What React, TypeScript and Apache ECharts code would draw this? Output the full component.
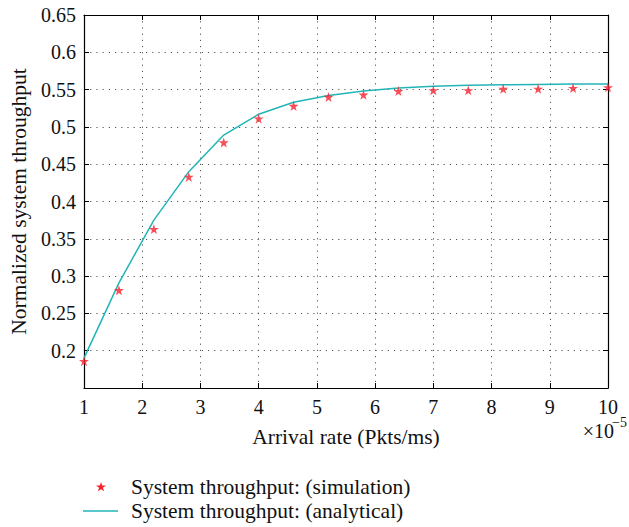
import React, { useEffect, useRef } from "react";
import * as echarts from "echarts";

const arrivalRates = [1, 1.6, 2.2, 2.8, 3.4, 4, 4.6, 5.2, 5.8, 6.4, 7, 7.6, 8.2, 8.8, 9.4, 10];
const simulation = [0.186, 0.281, 0.363, 0.433, 0.479, 0.511, 0.528, 0.54, 0.543, 0.548, 0.549, 0.549, 0.551, 0.551, 0.552, 0.553];
const analytical = [0.19, 0.291, 0.375, 0.44, 0.489, 0.517, 0.533, 0.542, 0.548, 0.552, 0.5545, 0.5558, 0.5565, 0.557, 0.5575, 0.5576];
const seriesNames = ["System throughput: (simulation)", "System throughput: (analytical)"];
const xAxisTitle = "Arrival rate (Pkts/ms)";
const yAxisTitle = "Normalized system throughput";
const xScaleBase = "×10";
const xScaleExp = "−5";

const STAR_D =
  "M50,0 L61.8,35.4 L100,35.4 L69.1,57.3 L80.9,93.3 L50,71.4 L19.1,93.3 L30.9,57.3 L0,35.4 L38.2,35.4 Z";
const STAR = "path://" + STAR_D;
const FONT = "'Liberation Serif', 'DejaVu Serif', serif";
const STAR_COLOR = "#f5222d";
const LINE_COLOR = "#22b5b8";
const TEXT = "#111";
const TITLE_SIZE = 21.5;

let registered = false;

export default function App() {
  const ref = useRef<HTMLDivElement>(null);
  useEffect(() => {
    document.body.style.margin = "0";
    if (!registered) {
      echarts.graphic.registerShape("star5", echarts.graphic.extendPath(STAR_D, {}));
      registered = true;
    }
    const chart = echarts.init(ref.current!, null, { renderer: "svg" });
    const splitLine = { show: true, lineStyle: { color: "#555", type: [1.2, 5] as any, width: 1 } };
    const axisLine = { show: true, lineStyle: { color: "#000", width: 1.2 } };
    const tick = { show: true, inside: true, length: 5, lineStyle: { color: "#000" } };
    const label = { color: TEXT, fontFamily: FONT, fontSize: 20 };
    chart.setOption({
      animation: false,
      backgroundColor: "#fff",
      textStyle: { fontFamily: FONT },
      grid: { left: 82, right: 21, top: 15, bottom: 139, containLabel: false },
      xAxis: [
        {
          type: "value",
          min: 1,
          max: 10,
          interval: 1,
          position: "bottom",
          axisLine,
          axisTick: tick,
          splitLine,
          axisLabel: { ...label, margin: 9 },
          name: xAxisTitle,
          nameLocation: "middle",
          nameGap: 38,
          nameTextStyle: { color: TEXT, fontFamily: FONT, fontSize: TITLE_SIZE },
        },
        {
          type: "value",
          min: 1,
          max: 10,
          interval: 1,
          position: "top",
          axisLine,
          axisTick: tick,
          splitLine: { show: false },
          axisLabel: { show: false },
        },
      ],
      yAxis: [
        {
          type: "value",
          min: 0.15,
          max: 0.65,
          interval: 0.05,
          position: "left",
          axisLine,
          axisTick: tick,
          splitLine,
          axisLabel: {
            ...label,
            margin: 8,
            formatter: (v: number) => (v < 0.16 ? "" : String(parseFloat(v.toFixed(2)))),
          },
          name: yAxisTitle,
          nameLocation: "middle",
          nameGap: 54,
          nameRotate: 90,
          nameTextStyle: { color: TEXT, fontFamily: FONT, fontSize: TITLE_SIZE },
        },
        {
          type: "value",
          min: 0.15,
          max: 0.65,
          interval: 0.05,
          position: "right",
          axisLine,
          axisTick: tick,
          splitLine: { show: false },
          axisLabel: { show: false },
        },
      ],
      graphic: [
        {
          type: "text",
          x: 614,
          y: 431,
          style: { text: xScaleBase, fontFamily: FONT, fontSize: 20, fill: TEXT, textAlign: "right", textVerticalAlign: "middle" },
        },
        {
          type: "text",
          x: 627,
          y: 422,
          style: { text: xScaleExp, fontFamily: FONT, fontSize: 14, fill: TEXT, textAlign: "right", textVerticalAlign: "middle" },
        },
        {
          type: "star5",
          x: 96,
          y: 482,
          scaleX: 0.1,
          scaleY: 0.1,
          style: { fill: STAR_COLOR },
        },
        {
          type: "text",
          x: 131,
          y: 487,
          style: { text: seriesNames[0], fontFamily: FONT, fontSize: TITLE_SIZE, fill: TEXT, textVerticalAlign: "middle" },
        },
        {
          type: "line",
          shape: { x1: 83, y1: 511, x2: 118, y2: 511 },
          style: { stroke: LINE_COLOR, lineWidth: 1.5 },
        },
        {
          type: "text",
          x: 131,
          y: 511,
          style: { text: seriesNames[1], fontFamily: FONT, fontSize: TITLE_SIZE, fill: TEXT, textVerticalAlign: "middle" },
        },
      ],
      series: [
        {
          name: seriesNames[1],
          type: "line",
          data: arrivalRates.map((x, i) => [x, analytical[i]]),
          showSymbol: false,
          symbol: "none",
          lineStyle: { color: LINE_COLOR, width: 1.5 },
          itemStyle: { color: LINE_COLOR },
          z: 2,
        },
        {
          name: seriesNames[0],
          type: "scatter",
          data: arrivalRates.map((x, i) => [x, simulation[i]]),
          symbol: STAR,
          symbolSize: 10,
          itemStyle: { color: STAR_COLOR },
          z: 3,
        },
      ],
    });
    return () => chart.dispose();
  }, []);
  return <div ref={ref} style={{ width: 629, height: 527 }} />;
}
